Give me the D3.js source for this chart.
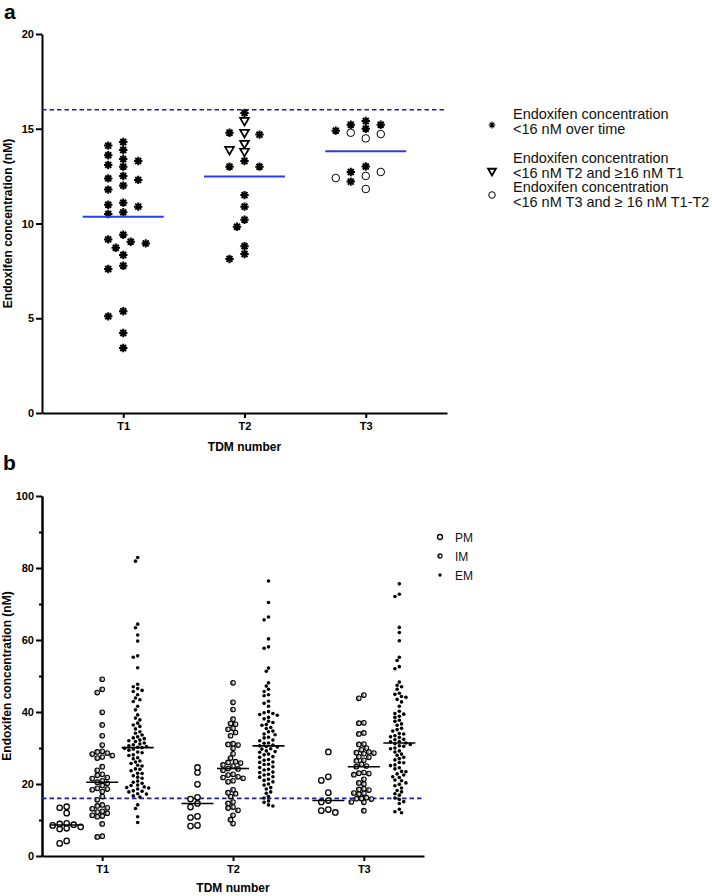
<!DOCTYPE html>
<html>
<head>
<meta charset="utf-8">
<script src="https://cdn.jsdelivr.net/npm/d3@7"></script>
<style>
	body { margin: 0; background: #fff; }
	text { font-family: Arial, "Liberation Sans", sans-serif; }
</style>
</head>
<body>
<div id="chart"></div>
<script>
'use strict';

var timePoints = ['T1', 'T2', 'T3'];
var threshold = 16;

// panel a: patients below 16 nM
var aOverTime = [
	[14.3, 13.88, 13.3, 12.51, 12.0, 10.99, 10.5, 9.04, 5.1, 14.11, 13.4, 13.0, 12.3, 11.79, 11.1,
		10.59, 9.16, 8.72, 8.34, 7.6, 4.22, 3.43, 5.37, 13.6, 13.09, 12.38, 10.89, 9.41, 8.95, 7.77],
	[15.83, 14.69, 13.3, 11.5, 10.89, 9.83, 8.8, 14.79, 13.0, 13.0, 10.2, 8.13, 8.39],
	[15.21, 14.9, 15.21, 15.41, 15.0, 12.72, 13.01, 12.21]
];
var aT2Only = [[], [15.44, 14.23, 13.81, 14.81, 13.91], []];
var aT3Only = [[], [], [14.79, 14.49, 14.72, 12.4, 12.51, 12.72, 11.82]];
var aTicks = [0, 5, 10, 15, 20];
var aLegend = [
	['Endoxifen concentration', '<16 nM over time'],
	['Endoxifen concentration', '<16 nM T2 and \u226516 nM T1'],
	['Endoxifen concentration', '<16 nM T3 and \u2265 16 nM T1-T2']
];

// panel b: by CYP2D6 phenotype
var phenotypes = ['PM', 'IM', 'EM'];
var pmValues = [
	[3.5, 4.2, 7.5, 7.7, 8.1, 8.5, 8.7, 8.9, 9.1, 11.9, 13.4, 13.7],
	[8.3, 8.5, 10.7, 11.0, 13.6, 14.6, 15.8, 16.3, 19.9, 23.2, 24.6],
	[12.1, 12.6, 12.9, 15.0, 15.4, 17.6, 21.0, 22.0, 28.9]
];
var imValues = [
	[5.3, 5.5, 8.9, 10.9, 11.1, 11.3, 11.9, 12.2, 12.4, 13.1, 13.4, 13.9, 14.2, 15.6, 16.5, 17.9, 18.4,
		18.6, 18.8, 19.6, 20.2, 20.5, 20.9, 21.5, 21.8, 22.4, 22.7, 23.8, 24.8, 27.2, 27.5, 27.9, 28.3,
		28.6, 28.9, 29.1, 30.8, 33.4, 36.4, 39.9, 45.4, 46.3, 49.1],
	[9.0, 10.1, 11.3, 12.7, 13.3, 13.6, 14.6, 15.0, 16.5, 17.3, 17.6, 18.4, 20.6, 20.9, 21.6, 21.8, 22.0,
		22.5, 22.7, 23.8, 24.2, 24.3, 25.0, 25.3, 25.8, 26.0, 26.2, 27.2, 28.4, 29.9, 30.8, 31.0, 31.2,
		33.4, 34.3, 35.2, 35.5, 36.6, 36.8, 38.0, 40.7, 42.7, 48.1],
	[12.6, 14.9, 15.0, 15.8, 15.9, 16.0, 16.2, 17.2, 17.4, 17.5, 18.3, 18.5, 18.7, 20.0, 20.3, 21.3, 22.6,
		22.9, 23.0, 23.2, 24.8, 25.0, 25.5, 26.4, 26.6, 27.4, 27.6, 28.4, 28.6, 28.7, 28.9, 29.5, 30.0,
		31.0, 31.1, 33.9, 34.2, 36.9, 37.0, 43.8, 44.7]
];
var emValues = [
	[9.3, 10.9, 13.2, 14.2, 16.4, 16.7, 17.2, 17.3, 17.8, 18.0, 18.1, 18.6, 18.9, 19.0, 19.2, 19.6, 19.7,
		20.2, 20.5, 20.8, 21.6, 21.9, 22.3, 22.9, 23.0, 23.7, 24.1, 24.2, 25.0, 25.2, 25.7, 26.1, 26.4,
		27.0, 27.3, 27.9, 28.1, 28.7, 28.9, 29.4, 29.7, 29.9, 30.1, 30.2, 30.4, 30.6, 30.9, 31.1, 31.4,
		31.8, 32.0, 32.2, 32.6, 32.8, 33.1, 33.6, 34.1, 34.5, 35.3, 36.0, 36.4, 36.9, 37.8, 38.3, 39.2,
		40.6, 41.6, 42.9, 43.4, 43.9, 44.8, 45.7, 46.0, 46.5, 47.0, 47.7, 52.3, 55.2, 55.6, 59.7, 61.4,
		63.4, 64.4, 81.9, 82.9],
	[13.9, 14.2, 14.9, 15.3, 16.1, 16.5, 17.4, 17.8, 18.6, 19.0, 19.7, 20.0, 20.6, 21.0, 21.3, 21.9, 22.0,
		22.5, 22.7, 23.2, 23.3, 23.9, 24.1, 24.6, 24.8, 25.4, 25.5, 26.0, 26.1, 26.6, 26.8, 27.4, 27.6,
		28.1, 28.3, 28.8, 29.0, 29.2, 29.7, 29.8, 30.3, 30.4, 30.6, 30.8, 31.3, 31.4, 32.0, 32.2, 32.8,
		33.0, 33.7, 33.9, 34.5, 34.7, 35.4, 35.7, 36.3, 36.5, 37.1, 37.4, 38.1, 38.5, 39.1, 39.3, 39.6,
		39.8, 40.1, 41.6, 42.4, 43.0, 44.5, 44.8, 45.7, 46.3, 47.2, 48.1, 51.3, 52.2, 57.7, 58.1, 60.3,
		65.6, 66.4, 70.4, 76.4],
	[12.0, 12.3, 13.0, 14.6, 15.1, 15.7, 16.1, 16.9, 17.3, 17.8, 18.2, 18.9, 19.5, 19.9, 20.3, 20.9, 21.1,
		21.8, 22.0, 22.5, 22.8, 23.4, 23.5, 24.2, 24.5, 25.1, 25.3, 25.9, 26.0, 26.7, 27.1, 27.4, 28.0,
		28.3, 28.9, 29.2, 29.8, 30.0, 30.5, 30.6, 31.0, 31.2, 31.4, 31.7, 31.8, 32.3, 32.4, 32.9, 33.1,
		33.4, 33.9, 34.0, 34.7, 35.1, 35.5, 36.3, 36.7, 37.4, 37.7, 38.5, 38.8, 39.4, 39.6, 40.2, 41.6,
		42.8, 43.5, 44.1, 44.3, 44.9, 45.2, 46.3, 47.0, 47.4, 48.3, 52.0, 52.6, 54.3, 55.2, 59.8, 62.1,
		63.5, 72.1, 72.7, 75.6]
];
var bTicks = [0, 20, 40, 60, 80, 100];
var bMinorTicks = [10, 30, 50, 70, 90];

var width = 712, height = 896;
var dashColor = '#1c1cb4';
var meanColor = '#2d3ee0';

var svg = d3.select('#chart').append('svg')
	.attr('width', width)
	.attr('height', height);

/*** helpers ***/

// places points top to bottom, each at the free slot nearest to the centre
function dodge(values, y, step, sx, sy) {
	var pts = values.map(function(v) { return { v: v, py: y(v), dx: 0 }; });
	var order = pts.slice().sort(function(a, b) { return b.v - a.v; });
	var placed = [];
	order.forEach(function(p) {
		for (var k = 0; k < 40; k++) {
			var off = (k === 0 ? 0 : (k % 2 ? -1 : 1) * Math.ceil(k / 2)) * step / 2;
			var free = placed.every(function(q) {
				var ex = (q.dx - off) / sx, ey = (q.py - p.py) / sy;
				return ex * ex + ey * ey >= 1;
			});
			if (free) { p.dx = off; break; }
		}
		placed.push(p);
	});
	return pts;
}

function asteriskPath(r) {
	var d = r * Math.SQRT1_2;
	return 'M' + (-r) + ',0L' + r + ',0M0,' + (-r) + 'L0,' + r +
		'M' + (-d) + ',' + (-d) + 'L' + d + ',' + d + 'M' + (-d) + ',' + d + 'L' + d + ',' + (-d);
}

function drawAsterisk(g, x, y, r, sw, core) {
	g.append('path')
		.attr('d', asteriskPath(r))
		.attr('transform', 'translate(' + x + ',' + y + ')')
		.attr('stroke', '#000')
		.attr('stroke-width', sw);
	if (core > 0) {
		g.append('circle')
			.attr('cx', x).attr('cy', y).attr('r', core)
			.attr('fill', '#000');
	}
}

function drawTriangle(g, x, y, size, sw) {
	g.append('path')
		.attr('d', d3.symbol(d3.symbolTriangle, size)())
		.attr('transform', 'translate(' + x + ',' + y + ') rotate(180)')
		.attr('fill', '#fff')
		.attr('stroke', '#000')
		.attr('stroke-width', sw);
}

function drawOpenCircle(g, x, y, r, sw) {
	g.append('circle')
		.attr('cx', x).attr('cy', y).attr('r', r)
		.attr('fill', '#fff')
		.attr('stroke', '#000')
		.attr('stroke-width', sw);
}

function drawHalfCircle(g, x, y, r) {
	g.append('circle')
		.attr('cx', x).attr('cy', y).attr('r', r)
		.attr('fill', '#f0f0f0')
		.attr('stroke', '#000')
		.attr('stroke-width', 1.1);
	g.append('path')
		.attr('d', 'M0,' + (-r) + 'A' + r + ',' + r + ' 0 0 0 0,' + r + 'Z')
		.attr('transform', 'translate(' + x + ',' + y + ')')
		.attr('fill', '#000')
		.attr('opacity', 0.4);
}

function drawDot(g, x, y, r) {
	g.append('circle')
		.attr('cx', x).attr('cy', y).attr('r', r)
		.attr('fill', '#000');
}

function styleAxis(axisG) {
	axisG.select('.domain').attr('stroke', '#000').attr('stroke-width', 2);
	axisG.selectAll('.tick line').attr('stroke', '#000').attr('stroke-width', 2);
	axisG.selectAll('.tick text')
		.attr('fill', '#000')
		.style('font-size', '11px')
		.style('font-weight', 'bold')
		.style('font-family', 'Arial, "Liberation Sans", sans-serif');
}

function drawAxisTitles(x, yMid, yTitle, xTitleY) {
	svg.append('text')
		.attr('x', x).attr('y', xTitleY)
		.attr('text-anchor', 'middle')
		.style('font-size', '12px')
		.style('font-weight', 'bold')
		.text('TDM number');
	svg.append('text')
		.attr('transform', 'translate(' + yTitle + ',' + yMid + ') rotate(-90)')
		.attr('text-anchor', 'middle')
		.style('font-size', '12px')
		.style('font-weight', 'bold')
		.text('Endoxifen concentration (nM)');
}

/*** panel a ***/

var ya = d3.scaleLinear().domain([0, 20]).range([413, 34]);
var xa = d3.scalePoint().domain(timePoints).range([42, 447]).padding(0.67);

svg.append('text')
	.attr('x', 4).attr('y', 19)
	.style('font-size', '21px')
	.style('font-weight', 'bold')
	.text('a');

var axA = svg.append('g').attr('transform', 'translate(42,0)')
	.call(d3.axisLeft(ya).tickValues(aTicks).tickSize(6).tickSizeOuter(0).tickPadding(2));
styleAxis(axA);
var axAx = svg.append('g').attr('transform', 'translate(0,413)')
	.call(d3.axisBottom(xa).tickSize(5).tickSizeOuter(0).tickPadding(4));
styleAxis(axAx);
drawAxisTitles((42 + 447) / 2, (34 + 413) / 2, 12, 451);

svg.append('line')
	.attr('x1', 42).attr('x2', 447)
	.attr('y1', ya(threshold)).attr('y2', ya(threshold))
	.attr('stroke', dashColor)
	.attr('stroke-width', 1.6)
	.attr('stroke-dasharray', '4.5,3');

var pointsA = svg.append('g');
timePoints.forEach(function(t, i) {
	var all = aOverTime[i].map(function(v) { return { v: v, kind: 'star' }; })
		.concat(aT2Only[i].map(function(v) { return { v: v, kind: 'tri' }; }))
		.concat(aT3Only[i].map(function(v) { return { v: v, kind: 'circ' }; }));
	var placed = dodge(all.map(function(d) { return d.v; }), ya, 15, 14, 7.2);
	var cx = xa(t);
	placed.forEach(function(p, j) {
		var kind = all[j].kind, x = cx + p.dx, y = p.py;
		if (kind === 'star') { drawAsterisk(pointsA, x, y, 4.2, 2, 2.1); }
		else if (kind === 'tri') { drawTriangle(pointsA, x, y, 34, 1.7); }
		else { drawOpenCircle(pointsA, x, y, 3.8, 1); }
	});
	var m = d3.mean(all, function(d) { return d.v; });
	svg.append('line')
		.attr('x1', cx - 40.5).attr('x2', cx + 40.5)
		.attr('y1', ya(m)).attr('y2', ya(m))
		.attr('stroke', meanColor)
		.attr('stroke-width', 2);
});

// legend a
var legA = svg.append('g');
var legAY = [118.5, 162.5, 192];
var legAMarkY = [125, 171, 195];
aLegend.forEach(function(lines, i) {
	lines.forEach(function(s, k) {
		legA.append('text')
			.attr('x', 513).attr('y', legAY[i] + k * 15)
			.style('font-size', '14.5px')
			.attr('fill', '#111')
			.text(s);
	});
	if (i === 0) { drawAsterisk(legA, 492, legAMarkY[i], 3.4, 1.2, 0.9); }
	else if (i === 1) { drawTriangle(legA, 492, legAMarkY[i], 26, 1.8); }
	else { drawOpenCircle(legA, 492, legAMarkY[i], 3.3, 1); }
});

/*** panel b ***/

var yb = d3.scaleLinear().domain([0, 100]).range([856, 496]);
var xb = d3.scalePoint().domain(timePoints).range([42, 424]).padding(0.46);
var xSub = d3.scalePoint().domain(phenotypes).range([-35.5, 35.5]);

svg.append('text')
	.attr('x', 3).attr('y', 470)
	.style('font-size', '21px')
	.style('font-weight', 'bold')
	.text('b');

var axBm = svg.append('g').attr('transform', 'translate(42,0)')
	.call(d3.axisLeft(yb).tickValues(bMinorTicks).tickSize(3).tickSizeOuter(0).tickFormat(''));
styleAxis(axBm);
var axB = svg.append('g').attr('transform', 'translate(42,0)')
	.call(d3.axisLeft(yb).tickValues(bTicks).tickSize(6).tickSizeOuter(0).tickPadding(2));
styleAxis(axB);
var axBx = svg.append('g').attr('transform', 'translate(0,856)')
	.call(d3.axisBottom(xb).tickSize(5).tickSizeOuter(0).tickPadding(4));
styleAxis(axBx);
drawAxisTitles((42 + 424) / 2, (496 + 856) / 2, 11, 892);

svg.append('line')
	.attr('x1', 42).attr('x2', 424)
	.attr('y1', yb(threshold)).attr('y2', yb(threshold))
	.attr('stroke', dashColor)
	.attr('stroke-width', 1.6)
	.attr('stroke-dasharray', '4.5,3');

var pointsB = svg.append('g');
var groupsB = [pmValues, imValues, emValues];
var layoutB = [
	{ step: 7, sx: 6.5, sy: 4.6 },
	{ step: 5, sx: 4.8, sy: 4.6 },
	{ step: 4.4, sx: 3.9, sy: 3.7 }
];
var medians = [];
timePoints.forEach(function(t, i) {
	phenotypes.forEach(function(ph, k) {
		var vals = groupsB[k][i];
		var cx = xb(t) + xSub(ph);
		var lay = layoutB[k];
		dodge(vals, yb, lay.step, lay.sx, lay.sy).forEach(function(p) {
			if (k === 0) { drawOpenCircle(pointsB, cx + p.dx, p.py, 2.7, 1.3); }
			else if (k === 1) { drawHalfCircle(pointsB, cx + p.dx, p.py, 2.3); }
			else { drawDot(pointsB, cx + p.dx, p.py, 1.8); }
		});
		medians.push({ x: cx, v: d3.median(vals) });
	});
});
svg.append('g').selectAll('line')
	.data(medians)
	.join('line')
	.attr('x1', function(d) { return d.x - 16; })
	.attr('x2', function(d) { return d.x + 16; })
	.attr('y1', function(d) { return yb(d.v); })
	.attr('y2', function(d) { return yb(d.v); })
	.attr('stroke', '#000')
	.attr('stroke-width', 1.6);

// legend b
var legB = svg.append('g');
phenotypes.forEach(function(ph, k) {
	var y = 537 + k * 19;
	if (k === 0) { drawOpenCircle(legB, 440, y, 2.5, 1.3); }
	else if (k === 1) { drawHalfCircle(legB, 440, y, 2.1); }
	else { drawDot(legB, 440, y, 1.7); }
	legB.append('text')
		.attr('x', 455).attr('y', y + 4.5)
		.style('font-size', '12px')
		.attr('fill', '#111')
		.text(ph);
});
</script>
</body>
</html>
